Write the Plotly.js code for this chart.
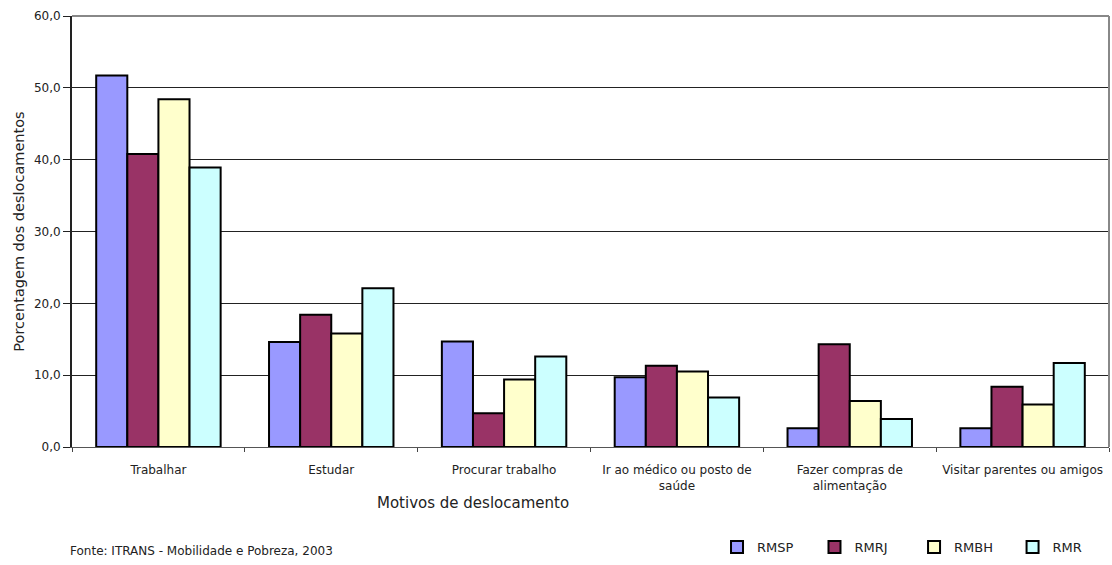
<!DOCTYPE html>
<html>
<head>
<meta charset="utf-8">
<script src="https://cdn.plot.ly/plotly-3.0.1.min.js"></script>
<style>html,body{margin:0;padding:0;background:#fff;}#chart{width:1112px;height:565px;}</style>
</head>
<body>
<div id="chart"></div>
<script>
const categories = ["Trabalhar", "Estudar", "Procurar trabalho", "Ir ao médico ou posto de<br>saúde", "Fazer compras de<br>alimentação", "Visitar parentes ou amigos"];
const seriesNames = ["RMSP", "RMRJ", "RMBH", "RMR"];
const rmsp = [51.7, 14.6, 14.7, 9.7, 2.6, 2.6];
const rmrj = [40.8, 18.4, 4.7, 11.3, 14.3, 8.4];
const rmbh = [48.4, 15.8, 9.4, 10.5, 6.4, 5.9];
const rmr  = [38.9, 22.1, 12.6, 6.9, 3.9, 11.7];
const colors = ["#9999FF", "#993366", "#FFFFCC", "#CCFFFF"];
const yTicks = [0, 10, 20, 30, 40, 50, 60];

const allSeries = [rmsp, rmrj, rmbh, rmr];
const font = "DejaVu Sans, Liberation Sans, Arial, sans-serif";
const legendIds = ["legend", "legend2", "legend3", "legend4"];
const legendX = [0.622, 0.716, 0.812, 0.907];

const traces = allSeries.map((vals, i) => ({
  type: "bar",
  name: seriesNames[i],
  x: categories,
  y: vals,
  legend: legendIds[i],
  marker: {color: colors[i], line: {color: "#000", width: 2}},
  hoverinfo: "y+name"
}));

const layout = {
  width: 1112, height: 565,
  margin: {l: 72, r: 3, t: 16, b: 113},
  paper_bgcolor: "#fff", plot_bgcolor: "#fff",
  font: {family: font, size: 11, color: "#222"},
  separators: ",.",
  barmode: "group",
  bargap: 0.28,
  bargroupgap: 0,
  showlegend: true,
  xaxis: {
    type: "category", tickson: "boundaries", ticks: "outside", ticklen: 4, tickcolor: "#444",
    showline: true, linecolor: "#555", linewidth: 1, showgrid: false, tickangle: 0,
    ticklabelstandoff: 12,
    tickfont: {family: font, size: 12, color: "#222"}, automargin: false, fixedrange: true
  },
  yaxis: {
    range: [0, 60], tickvals: yTicks, tickformat: ".1f", ticks: "outside", ticklen: 7, tickcolor: "#222",
    showline: true, linecolor: "#222", linewidth: 2, showgrid: true, gridcolor: "#222", gridwidth: 1.2,
    zeroline: false, tickfont: {family: font, size: 12, color: "#222"},
    title: {text: "Porcentagem dos deslocamentos", font: {family: font, size: 14.5, color: "#222"}, standoff: 6},
    automargin: false, fixedrange: true
  },
  shapes: [
    {type: "line", xref: "paper", yref: "paper", x0: 0, x1: 1, y0: 1, y1: 1, line: {color: "#888", width: 2}},
    {type: "line", xref: "paper", yref: "paper", x0: 1, x1: 1, y0: 0, y1: 1, line: {color: "#888", width: 2}}
  ],
  annotations: [
    {text: "Motivos de deslocamento", xref: "paper", yref: "paper", x: 0.387, y: -0.131, xanchor: "center", yanchor: "middle",
     showarrow: false, font: {family: font, size: 15, color: "#222"}},
    {text: "Fonte: ITRANS - Mobilidade e Pobreza, 2003", xref: "paper", yref: "paper", x: -0.004, y: -0.241, xanchor: "left", yanchor: "middle",
     showarrow: false, font: {family: font, size: 12, color: "#222"}}
  ]
};

legendIds.forEach((id, i) => {
  layout[id] = {orientation: "h", x: legendX[i], xanchor: "left", y: -0.232, yanchor: "middle",
                font: {family: font, size: 13, color: "#222"}, bgcolor: "rgba(0,0,0,0)", itemsizing: "constant"};
});

Plotly.newPlot("chart", traces, layout, {displayModeBar: false, staticPlot: true});
</script>
</body>
</html>
